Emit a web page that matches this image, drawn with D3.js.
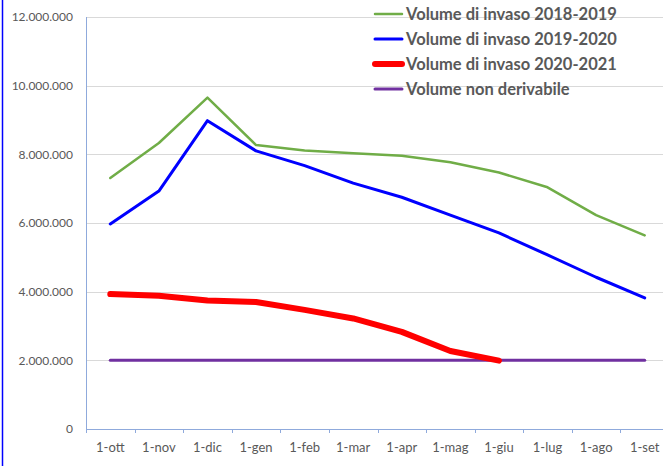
<!DOCTYPE html>
<html>
<head>
  <meta charset="utf-8">
  <script src="https://cdn.jsdelivr.net/npm/d3@7"></script>
  <style type="text/css">
    body { margin: 0; background: #fff; }
    svg { display: block; }
    .tick-label { font-family: Lato, "Open Sans", sans-serif; font-size: 13px; fill: #595959; }
    .y-label { font-size: 12px; }
    .legend-text { font-family: Lato, "Open Sans", sans-serif; font-size: 16.5px; font-weight: bold; fill: #595959; }
  </style>
</head>
<body>
  <script type="text/javascript">
    //Data (million m3)
    var months = ['1-ott','1-nov','1-dic','1-gen','1-feb','1-mar','1-apr','1-mag','1-giu','1-lug','1-ago','1-set'];
    var vol2018 = [7.31, 8.33, 9.65, 8.27, 8.11, 8.03, 7.96, 7.77, 7.47, 7.04, 6.23, 5.64];
    var vol2019 = [5.97, 6.93, 8.98, 8.10, 7.67, 7.16, 6.75, 6.23, 5.71, 5.07, 4.42, 3.82];
    var vol2020 = [3.93, 3.88, 3.74, 3.70, 3.47, 3.22, 2.83, 2.27, 1.99];
    var nonDerivabile = [2, 2, 2, 2, 2, 2, 2, 2, 2, 2, 2, 2];
    var yTicks = [0, 2, 4, 6, 8, 10, 12];

    var series = [
      {name: 'Volume di invaso 2018-2019', values: vol2018, color: '#70ad47', width: 2.5},
      {name: 'Volume di invaso 2019-2020', values: vol2019, color: '#0000ff', width: 3},
      {name: 'Volume di invaso 2020-2021', values: vol2020, color: '#ff0000', width: 6},
      {name: 'Volume non derivabile', values: nonDerivabile, color: '#7030a0', width: 3}
    ];
    // drawing order: purple under red
    var drawOrder = [series[0], series[1], series[3], series[2]];

    var width = 663, height = 466;
    var plotLeft = 86, plotRight = 669, plotTop = 17, plotBottom = 429;

    var svg = d3.select('body').append('svg')
        .attr('width', width)
        .attr('height', height);

    //Left border
    svg.append('line')
        .attr('x1', 2.5).attr('x2', 2.5)
        .attr('y1', 0).attr('y2', height)
        .attr('stroke', '#0000ff')
        .attr('stroke-width', 1.5);

    var x = d3.scaleBand().domain(months).range([plotLeft, plotRight]);
    var y = d3.scaleLinear().domain([0, 12]).range([plotBottom, plotTop]);

    //Gridlines
    svg.append('g').selectAll('line')
        .data(yTicks.filter(function(d){ return d > 0; }))
        .enter().append('line')
        .attr('x1', plotLeft).attr('x2', plotRight)
        .attr('y1', function(d){ return Math.round(y(d)) + 0.5; })
        .attr('y2', function(d){ return Math.round(y(d)) + 0.5; })
        .attr('stroke', '#d9d9d9')
        .attr('stroke-width', 1);

    //Y axis labels
    var fmt = function(d){
      return d === 0 ? '0' : d3.format(',')(d * 1000000).replace(/,/g, '.');
    };
    svg.append('g').selectAll('text')
        .data(yTicks)
        .enter().append('text')
        .attr('class', 'tick-label y-label')
        .attr('x', 73)
        .attr('y', function(d){ return y(d); })
        .attr('dy', '0.35em')
        .attr('text-anchor', 'end')
        .text(fmt);

    //Axes lines
    var axisColor = '#8faadc';
    svg.append('line')
        .attr('x1', plotLeft + 0.5).attr('x2', plotLeft + 0.5)
        .attr('y1', plotTop).attr('y2', plotBottom + 4)
        .attr('stroke', axisColor);
    svg.append('line')
        .attr('x1', plotLeft).attr('x2', plotRight)
        .attr('y1', plotBottom + 0.5).attr('y2', plotBottom + 0.5)
        .attr('stroke', axisColor);
    svg.append('g').selectAll('line')
        .data(months)
        .enter().append('line')
        .attr('x1', function(d){ return Math.round(x(d) + x.bandwidth()) + 0.5; })
        .attr('x2', function(d){ return Math.round(x(d) + x.bandwidth()) + 0.5; })
        .attr('y1', plotBottom).attr('y2', plotBottom + 4)
        .attr('stroke', axisColor);

    //X labels
    svg.append('g').selectAll('text')
        .data(months)
        .enter().append('text')
        .attr('class', 'tick-label')
        .attr('x', function(d){ return x(d) + x.bandwidth() / 2; })
        .attr('y', 447)
        .attr('dy', '0.35em')
        .attr('text-anchor', 'middle')
        .text(function(d){ return d; });

    //Lines
    var line = d3.line()
        .x(function(d, i){ return x(months[i]) + x.bandwidth() / 2; })
        .y(function(d){ return y(d); });

    svg.append('g').selectAll('path')
        .data(drawOrder)
        .enter().append('path')
        .attr('d', function(s){ return line(s.values); })
        .attr('fill', 'none')
        .attr('stroke', function(s){ return s.color; })
        .attr('stroke-width', function(s){ return s.width; })
        .attr('stroke-linejoin', 'round')
        .attr('stroke-linecap', 'round');

    //Legend
    var legend = svg.append('g').selectAll('g')
        .data(series)
        .enter().append('g')
        .attr('transform', function(d, i){ return 'translate(374,' + (14 + i * 25) + ')'; });
    legend.append('line')
        .attr('x1', 1).attr('x2', 28)
        .attr('stroke', function(s){ return s.color; })
        .attr('stroke-width', function(s){ return s.width; })
        .attr('stroke-linecap', 'round');
    legend.append('text')
        .attr('class', 'legend-text')
        .attr('x', 32)
        .attr('dy', '0.35em')
        .text(function(s){ return s.name; });
  </script>
</body>
</html>
